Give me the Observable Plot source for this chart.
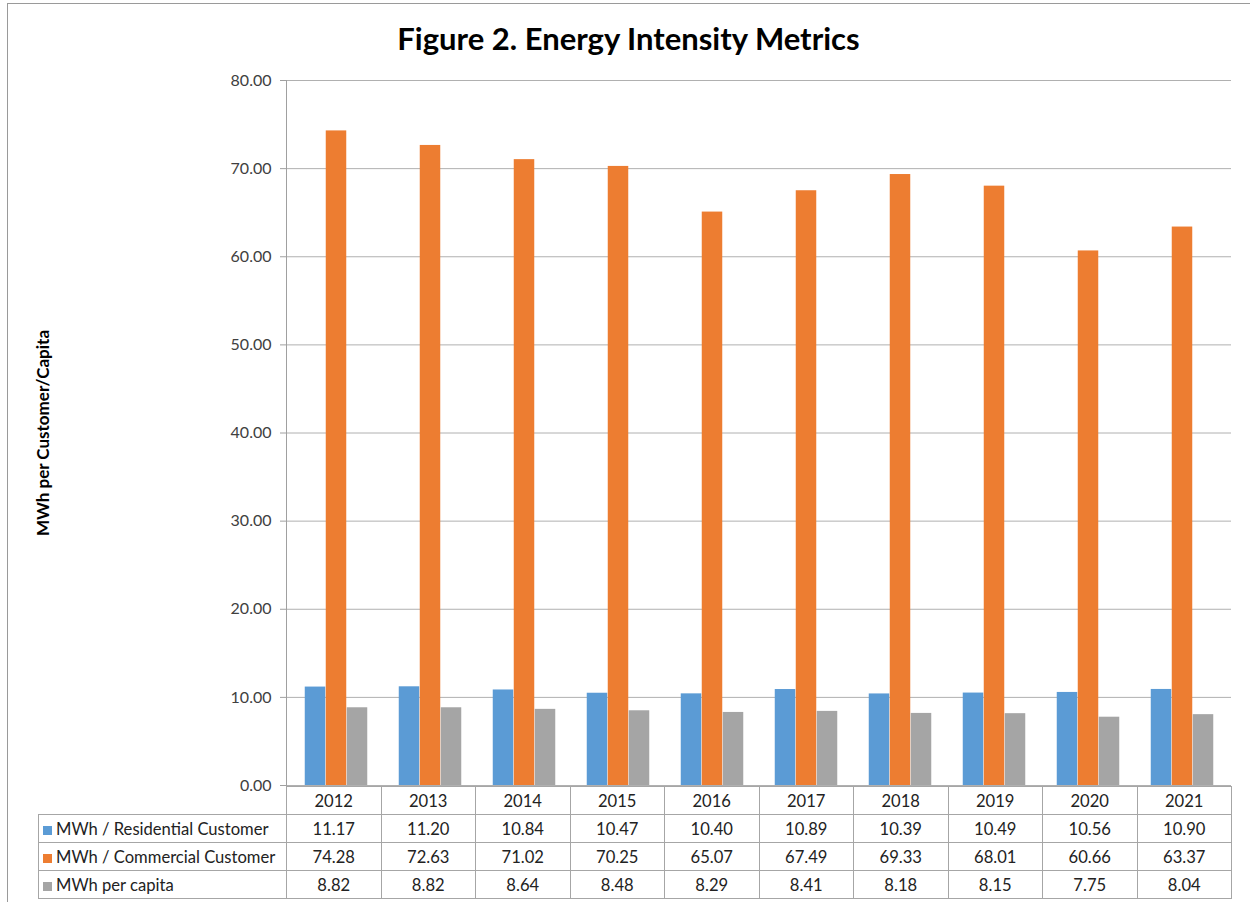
<!DOCTYPE html>
<html>
<head>
<meta charset="utf-8">
<script src="https://cdn.jsdelivr.net/npm/d3@7"></script>
<script src="https://cdn.jsdelivr.net/npm/@observablehq/plot@0.6"></script>
<style>
  html, body { margin: 0; padding: 0; background: #fff; }
  #wrap { position: relative; width: 1250px; height: 902px; font-family: Lato, "Open Sans", sans-serif; color: #404040; }
  #frameline { position: absolute; left: 7px; top: 3px; width: 1243px; height: 899px; border-left: 1px solid #9a9a9a; border-top: 1px solid #9a9a9a; box-sizing: border-box; }
  #title { position: absolute; left: 7px; top: 3px; width: 1243px; text-align: center; font-size: 31px; font-weight: bold; color: #000; line-height: 1; padding-top: 20px; }
  #chart { position: absolute; left: 0; top: 60px; }
  #tbl { position: absolute; left: 38px; top: 786px; border-collapse: collapse; font-size: 16.6px; color: #222; table-layout: fixed; }
  #tbl td { height: 27px; padding: 0; border: 1px solid #a6a6a6; text-align: center; white-space: nowrap; }
  #tbl td.lab { text-align: left; padding-left: 4px; }
  #tbl td.blank { border: none; }
  .sw { display: inline-block; width: 9px; height: 9px; margin-right: 4px; vertical-align: 0px; }
</style>
</head>
<body>
<div id="wrap">
  <div id="frameline"></div>
  <div id="title">Figure 2. Energy Intensity Metrics</div>
  <div id="chart"></div>
  <table id="tbl"></table>
</div>
<script>
const years = ["2012","2013","2014","2015","2016","2017","2018","2019","2020","2021"];
const residential = [11.17, 11.20, 10.84, 10.47, 10.40, 10.89, 10.39, 10.49, 10.56, 10.90];
const commercial  = [74.28, 72.63, 71.02, 70.25, 65.07, 67.49, 69.33, 68.01, 60.66, 63.37];
const perCapita   = [8.82, 8.82, 8.64, 8.48, 8.29, 8.41, 8.18, 8.15, 7.75, 8.04];
const seriesNames = ["MWh / Residential Customer", "MWh / Commercial Customer", "MWh per capita"];
const seriesColors = ["#5b9bd5", "#ed7d31", "#a5a5a5"];
const yTicks = [0, 10, 20, 30, 40, 50, 60, 70, 80];
const yLabel = "MWh per Customer/Capita";
const titleText = "Figure 2. Energy Intensity Metrics";

const seriesValues = [residential, commercial, perCapita];
const data = [];
seriesNames.forEach((s, i) => years.forEach((y, j) => data.push({year: y, series: s, idx: i, value: seriesValues[i][j]})));

const W = 1250, ML = 286, MR = 19;
const band = (W - ML - MR) / years.length;
const barW = band * 2 / 9;
const outer = band / 6;

const marks = [
  Plot.gridY(yTicks, {stroke: "#b0b0b0", strokeOpacity: 1}),
  Plot.axisY(yTicks, {tickFormat: d3.format(".2f"), tickSize: 6, tickPadding: 9, fontSize: 16, fill: "#404040", stroke: "#a0a0a0",
    label: yLabel, labelAnchor: "center", labelOffset: 250, labelArrow: "none"}),
  Plot.frame({anchor: "left", stroke: "#a0a0a0"})
];
seriesNames.forEach((s, i) => {
  marks.push(Plot.barY(data.filter(d => d.idx === i), {
    x: "year", y: "value", fill: seriesColors[i],
    insetLeft: outer + i * barW, insetRight: band - outer - (i + 1) * barW
  }));
});

const chart = Plot.plot({
  width: W, height: 735,
  marginLeft: ML, marginRight: MR, marginTop: 20, marginBottom: 10,
  style: {fontFamily: "Lato, 'Open Sans', sans-serif", overflow: "visible", background: "transparent"},
  x: {domain: years, padding: 0, axis: null},
  y: {domain: [0, 80], label: yLabel},
  marks
});
document.getElementById("chart").appendChild(chart);

// style axis label
chart.querySelectorAll("text").forEach(t => {
  if (t.textContent === yLabel) { t.setAttribute("font-weight", "bold"); t.setAttribute("font-size", "17"); t.setAttribute("fill", "#000"); }
});

// data table
const tbl = document.getElementById("tbl");
const colW = band;
let html = `<colgroup><col style="width:248px">${years.map(() => `<col style="width:${colW}px">`).join("")}</colgroup>`;
html += `<tr><td class="blank"></td>${years.map(y => `<td>${y}</td>`).join("")}</tr>`;
seriesNames.forEach((s, i) => {
  html += `<tr><td class="lab"><span class="sw" style="background:${seriesColors[i]}"></span>${s}</td>${seriesValues[i].map(v => `<td>${v.toFixed(2)}</td>`).join("")}</tr>`;
});
tbl.innerHTML = html;
</script>
</body>
</html>
